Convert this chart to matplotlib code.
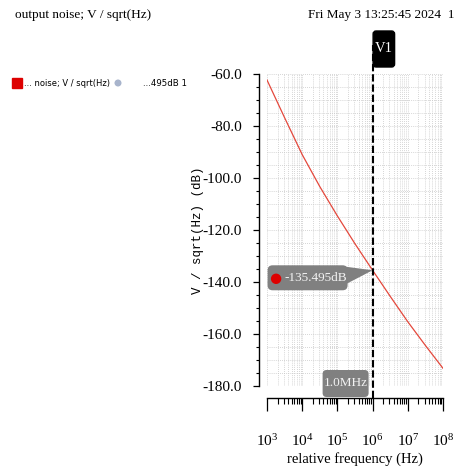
import matplotlib
matplotlib.use("Agg")
import matplotlib.pyplot as plt
import matplotlib.ticker as mticker
from matplotlib.patches import FancyBboxPatch, Polygon, Circle, Rectangle
from matplotlib.transforms import IdentityTransform

# values
freq_hz = [1e3, 3.16e3, 1e4, 3.16e4, 1e5, 3.16e5, 1e6, 3.16e6, 1e7, 3.16e7, 1e8]
noise_db = [-62.3, -76.8, -91.0, -103.3, -114.6, -125.3, -135.5, -145.5,
            -155.3, -164.4, -173.2]
marker_freq = 1e6
marker_value = -135.495
marker_name = "V1"
x_ticks = [1e3, 1e4, 1e5, 1e6, 1e7, 1e8]
y_ticks = [-60.0, -80.0, -100.0, -120.0, -140.0, -160.0, -180.0]

plt.rcParams["font.family"] = "Liberation Serif"
plt.rcParams["axes.unicode_minus"] = False
plt.rcParams["mathtext.fontset"] = "stix"

W, H = 458, 468
fig = plt.figure(figsize=(W / 100, H / 100), dpi=100)
ax = fig.add_axes([267 / W, 1 - 386 / H, 176 / W, 312 / H])

ax.plot(freq_hz, noise_db, color="#e4483c", linewidth=0.9)

ax.set_xscale("log")
ax.set_xlim(1e3, 1e8)
ax.set_ylim(-180, -60)
ax.xaxis.set_major_locator(mticker.FixedLocator(x_ticks))
ax.xaxis.set_major_formatter(mticker.LogFormatterSciNotation())
ax.xaxis.set_minor_locator(mticker.LogLocator(base=10, subs=range(2, 10), numticks=50))
ax.xaxis.set_minor_formatter(mticker.NullFormatter())
ax.set_yticks(y_ticks)
ax.yaxis.set_major_formatter(mticker.FormatStrFormatter("%.1f"))
ax.yaxis.set_minor_locator(mticker.MultipleLocator(5))

ax.grid(True, which="both", color="#c8c8c8", linestyle=(0, (1, 1.5)), linewidth=0.6)

for side in ("top", "right"):
    ax.spines[side].set_visible(False)
ax.spines["left"].set_position(("outward", 5.8))
ax.spines["bottom"].set_position(("outward", 8.6))
ax.spines["left"].set_linewidth(1.0)
ax.spines["bottom"].set_linewidth(1.0)

ax.tick_params(axis="x", which="major", length=9.5, width=0.9, pad=16, labelsize=11)
ax.tick_params(axis="x", which="minor", length=4.3, width=0.8)
ax.tick_params(axis="y", which="major", length=4.3, width=0.9, pad=8, labelsize=11)
ax.tick_params(axis="y", which="minor", length=2.2, width=0.8)

ax.set_xlabel("relative frequency (Hz)", fontsize=10.5, labelpad=2)
ax.set_ylabel("V / sqrt(Hz) (dB)", fontsize=9, family="Liberation Mono",
              labelpad=-1)

# header texts
fig.text(15 / W, 1 - 15 / H, "output noise; V / sqrt(Hz)", fontsize=9.5,
         ha="left", va="center")
fig.text(455 / W, 1 - 15 / H, "Fri May 3 13:25:45 2024  1", fontsize=9.5,
         ha="right", va="center")

# legend row
idt = IdentityTransform()
fig.add_artist(Rectangle((12, H - 88), 10, 10, color="#dd0000", transform=idt))
fig.text(24 / W, 1 - 83 / H, "... noise; V / sqrt(Hz)", fontsize=6,
         family="DejaVu Sans", ha="left", va="center")
fig.add_artist(Circle((118, H - 83), 2.8, color="#a8b4cc", transform=idt))
fig.text(143 / W, 1 - 83 / H, "...495dB 1", fontsize=6.2,
         family="DejaVu Sans", ha="left", va="center")

# marker line
tx, ty = ax.transData.transform((marker_freq, marker_value))
ax_bottom = H - 386
ax_top = H - 74
fig.add_artist(plt.Line2D([tx, tx], [H - 398, H - 45], color="black",
                          linewidth=1.5, linestyle=(0, (3.5, 1.4)),
                          transform=idt))

# V1 tag
fig.add_artist(FancyBboxPatch((tx + 0.5, ax_top + 7), 21.5, 36,
                              boxstyle="round,pad=0,rounding_size=3",
                              fc="black", ec="black", transform=idt))
fig.text(tx + 11.5, ax_top + 25, marker_name, color="white", fontsize=10.5,
         ha="center", va="center", transform=idt)

# frequency tag
fig.add_artist(FancyBboxPatch((tx - 50, ax_bottom - 11), 46, 27,
                              boxstyle="round,pad=0,rounding_size=4",
                              fc="#808080", ec="none", transform=idt))
fig.text(tx - 27, ax_bottom + 2.5, "1.0MHz", color="#f2f2f2", fontsize=9.5,
         ha="center", va="center", transform=idt)

# value callout
fig.add_artist(FancyBboxPatch((tx - 105, ty - 20), 80, 25,
                              boxstyle="round,pad=0,rounding_size=5",
                              fc="#808080", ec="none", transform=idt))
fig.add_artist(Polygon([(tx - 30, ty + 4), (tx, ty), (tx - 27, ty - 14),
                        (tx - 30, ty - 14)], closed=True, fc="#808080",
                       ec="none", transform=idt))
fig.add_artist(Circle((tx - 96.5, ty - 8.5), 4.5, color="#dd0000", transform=idt))
fig.text(tx - 88, ty - 8, f"{marker_value:.3f}dB", color="#f2f2f2", fontsize=9.5,
         ha="left", va="center", transform=idt)

fig.savefig("out.png", dpi=100)
plt.close(fig)
